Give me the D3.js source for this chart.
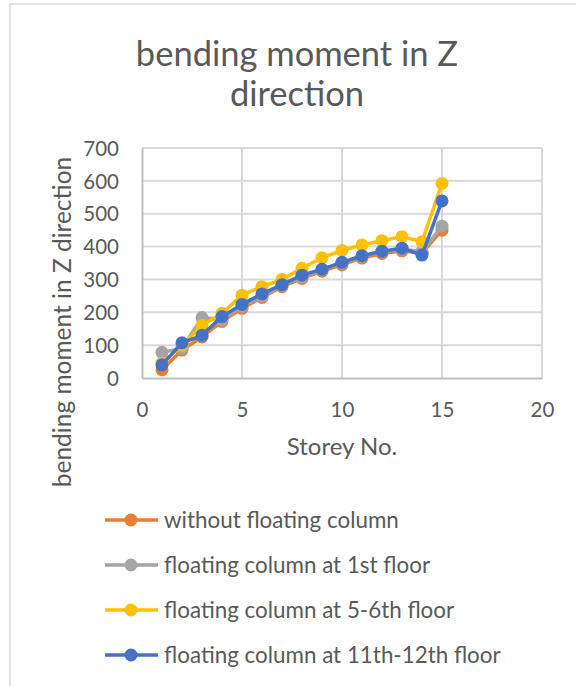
<!DOCTYPE html>
<html><head><meta charset="utf-8">
<script src="https://cdn.jsdelivr.net/npm/d3@7"></script>
<style>html,body{margin:0;padding:0;background:#fff;overflow:hidden}</style>
</head><body>
<script>
const storeys = [1,2,3,4,5,6,7,8,9,10,11,12,13,14,15];
const withoutFloating = [25,85,125,172,212,245,278,303,325,345,365,379,387,380,450];
const floating1st     = [78,90,184,177,218,250,282,308,330,350,370,385,392,385,462];
const floating5to6    = [45,100,160,197,252,278,300,334,366,388,405,418,430,415,592];
const floating11to12  = [40,107,130,187,224,256,284,313,331,352,372,386,395,374,539];
const seriesNames = ["without floating column","floating column at 1st floor","floating column at 5-6th floor","floating column at 11th-12th floor"];
const seriesColors = ["#ED7D31","#A5A5A5","#FFC000","#4472C4"];
const xTicks = [0,5,10,15,20];
const yTicks = [0,100,200,300,400,500,600,700];

const series = [withoutFloating, floating1st, floating5to6, floating11to12];
const font = "Lato, 'Open Sans', sans-serif";
const W = 576, H = 686;
const svg = d3.select("body").append("svg").attr("width", W).attr("height", H);
svg.append("rect").attr("width", W).attr("height", H).attr("fill", "#fff");
svg.append("rect").attr("x", 10).attr("y", 4).attr("width", W).attr("height", H)
  .attr("fill", "none").attr("stroke", "#d9d9d9").attr("stroke-width", 1.5);

const x = d3.scaleLinear().domain([0,20]).range([142,542]);
const y = d3.scaleLinear().domain([0,700]).range([378,148]);

// title
const title = svg.append("text").attr("text-anchor","middle").attr("fill","#595959")
  .style("font-family", font).style("font-size","34.5px");
title.append("tspan").attr("x",297).attr("y",66).text("bending moment in Z");
title.append("tspan").attr("x",297).attr("y",106).text("direction");

// grid
const g = svg.append("g");
g.selectAll(".hg").data(yTicks.filter(d=>d>0)).join("line")
  .attr("x1", x(0)).attr("x2", x(20)).attr("y1", d=>y(d)).attr("y2", d=>y(d))
  .attr("stroke","#d9d9d9").attr("stroke-width",2);
g.selectAll(".vg").data(xTicks.filter(d=>d>0)).join("line")
  .attr("y1", y(0)).attr("y2", y(700)).attr("x1", d=>x(d)).attr("x2", d=>x(d))
  .attr("stroke","#d9d9d9").attr("stroke-width",2);

// axes
const xAxis = svg.append("g").attr("transform",`translate(0,${y(0)})`)
  .call(d3.axisBottom(x).tickValues(xTicks).tickSize(0).tickPadding(24));
const yAxis = svg.append("g").attr("transform",`translate(${x(0)},0)`)
  .call(d3.axisLeft(y).tickValues(yTicks).tickSize(0).tickPadding(23));
[xAxis,yAxis].forEach(a=>{
  a.select(".domain").attr("stroke","#bfbfbf").attr("stroke-width",2);
  a.selectAll("text").attr("fill","#595959").style("font-family",font).style("font-size","20.5px");
});
yAxis.selectAll("text").attr("dy","0.35em");

svg.append("text").attr("x",342).attr("y",455).attr("text-anchor","middle")
  .attr("fill","#595959").style("font-family",font).style("font-size","24px").text("Storey No.");
svg.append("text").attr("transform","translate(71,322) rotate(-90)").attr("text-anchor","middle")
  .attr("fill","#595959").style("font-family",font).style("font-size","24.5px").text("bending moment in Z direction");

// series
const line = d3.line().x((d,i)=>x(storeys[i])).y(d=>y(d));
series.forEach((s,k)=>{
  const sg = svg.append("g");
  sg.append("path").datum(s).attr("d",line).attr("fill","none")
    .attr("stroke",seriesColors[k]).attr("stroke-width",3.5).attr("stroke-linejoin","round");
  sg.selectAll("circle").data(s).join("circle")
    .attr("cx",(d,i)=>x(storeys[i])).attr("cy",d=>y(d)).attr("r",6.5)
    .attr("fill",seriesColors[k]);
});

// legend
const lg = svg.append("g");
seriesNames.forEach((n,k)=>{
  const ly = 520 + k*45;
  lg.append("line").attr("x1",105).attr("x2",158).attr("y1",ly).attr("y2",ly)
    .attr("stroke",seriesColors[k]).attr("stroke-width",3.5);
  lg.append("circle").attr("cx",131).attr("cy",ly).attr("r",6.5).attr("fill",seriesColors[k]);
  lg.append("text").attr("x",164).attr("y",ly).attr("dy","0.35em").attr("fill","#595959")
    .style("font-family",font).style("font-size","22.4px").text(n);
});
</script>
</body></html>
